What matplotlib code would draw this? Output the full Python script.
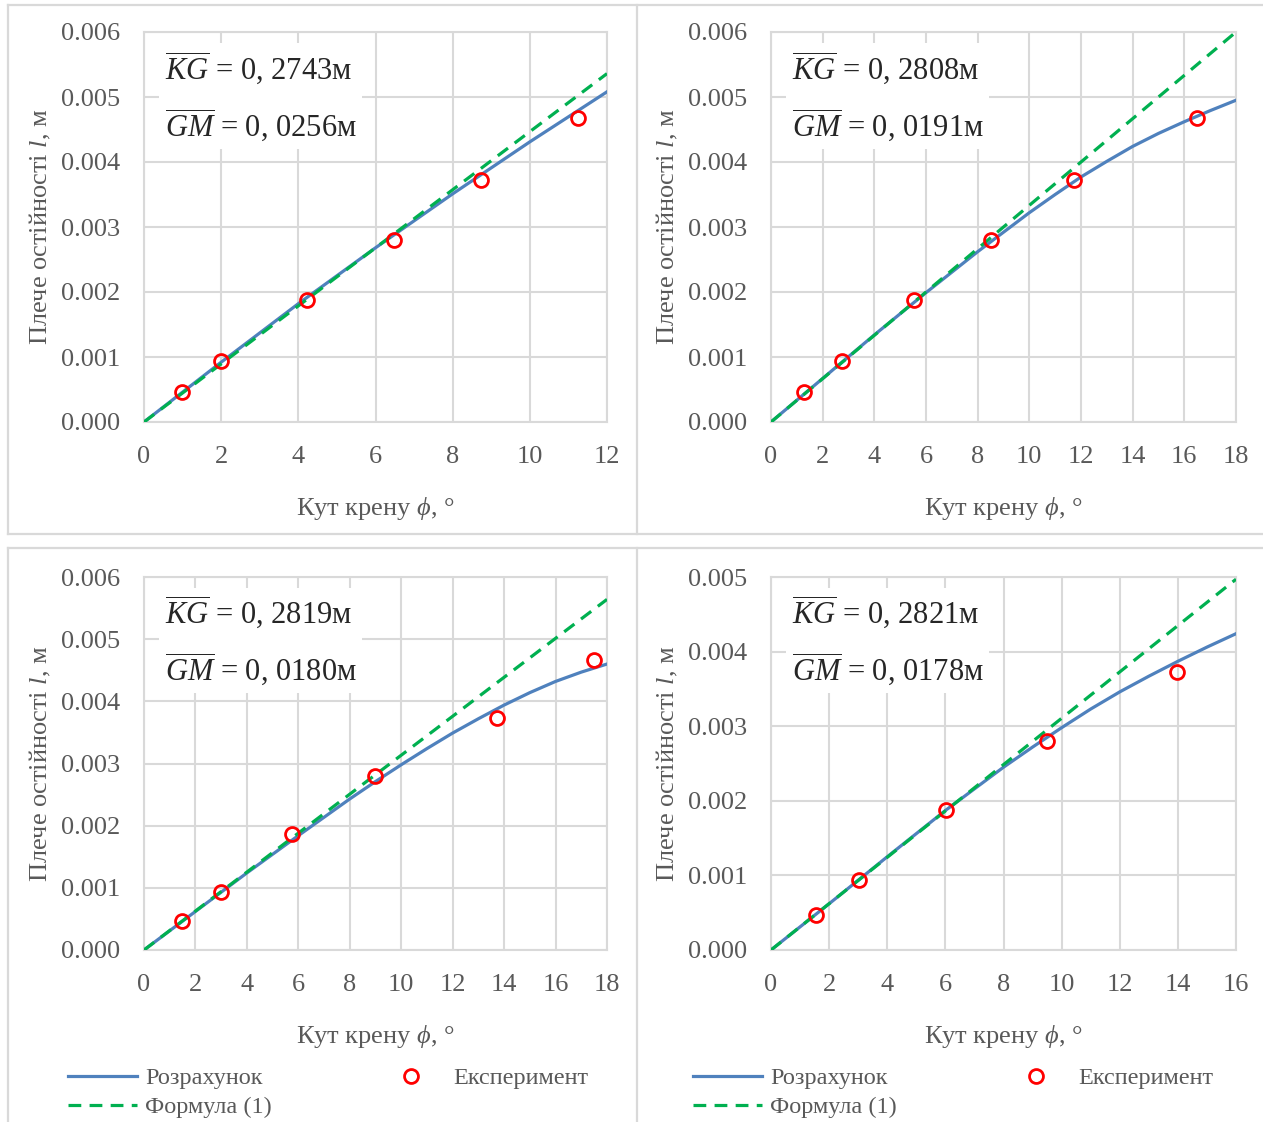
import matplotlib
matplotlib.use("Agg")
import matplotlib.pyplot as plt
from matplotlib.lines import Line2D

plt.rcParams['font.family'] = ['Liberation Serif', 'DejaVu Serif']
plt.rcParams['mathtext.fontset'] = 'custom'
plt.rcParams['mathtext.rm'] = 'Liberation Serif'
plt.rcParams['mathtext.it'] = 'Liberation Serif:italic'

# experiment (same heights in every panel)
exp_y = [0.000467, 0.000933, 0.00187, 0.0028, 0.00373, 0.00467]

# panel 1
p1_exp_x = [0.98, 1.99, 4.23, 6.49, 8.73, 11.24]
p1_calc_x = [0, 2, 4, 6, 8, 10, 12]
p1_calc_y = [0, 0.00092, 0.00182, 0.00268, 0.00351, 0.00431, 0.00508]
p1_form_x = [0, 12]
p1_form_y = [0, 0.00536]
p1_kg, p1_gm = "0, 2743м", "0, 0256м"

# panel 2
p2_exp_x = [1.29, 2.76, 5.54, 8.5, 11.74, 16.48]
p2_calc_x = [0, 2, 4, 6, 8, 9, 10, 11, 12, 13, 14, 15, 16, 17, 18]
p2_calc_y = [0, 0.00067, 0.00134, 0.00199, 0.00262, 0.00292, 0.00322, 0.00350, 0.00377,
             0.00401, 0.00424, 0.00444, 0.00462, 0.00479, 0.00495]
p2_form_x = [0, 18]
p2_form_y = [0, 0.0060]
p2_kg, p2_gm = "0, 2808м", "0, 0191м"

# panel 3
p3_exp_x = [1.46, 2.98, 5.74, 8.98, 13.74, 17.5]
p3_calc_x = [0, 2, 4, 6, 8, 9, 10, 11, 12, 13, 14, 15, 16, 17, 18]
p3_calc_y = [0, 0.00062, 0.00124, 0.00184, 0.00243, 0.00271, 0.00298, 0.00324, 0.00349,
             0.00372, 0.00394, 0.00414, 0.00432, 0.00447, 0.0046]
p3_form_x = [0, 18]
p3_form_y = [0, 0.00564]
p3_kg, p3_gm = "0, 2819м", "0, 0180м"

# panel 4
p4_exp_x = [1.54, 3.03, 6.01, 9.49, 13.98]
p4_calc_x = [0, 2, 4, 6, 8, 9, 10, 11, 12, 13, 14, 15, 16]
p4_calc_y = [0, 0.00062, 0.00125, 0.00187, 0.00245, 0.00272, 0.00298, 0.00323, 0.00346,
             0.00367, 0.00387, 0.00406, 0.00424]
p4_form_x = [0, 16]
p4_form_y = [0, 0.00497]
p4_kg, p4_gm = "0, 2821м", "0, 0178м"

W, H = 1263, 1122
fig = plt.figure(figsize=(W / 100, H / 100), dpi=100)

BLUE = '#4f81bd'
GREEN = '#00b050'
GRAY = '#595959'
GRID = '#d9d9d9'


def px_axes(x0, x1, y0, y1):
    return fig.add_axes([x0 / W, 1 - y1 / H, (x1 - x0) / W, (y1 - y0) / H])


def panel(ax, ex, cx, cy, fx, fy, kg, gm, xmax, ymax):
    ax.plot(cx, cy, color=BLUE, lw=2.3, zorder=3, label='Розрахунок')
    ax.plot(fx, fy, color=GREEN, lw=2.3, ls=(0, (4, 2.6)), zorder=4, label='Формула (1)')
    ax.plot(ex, exp_y[:len(ex)], 'o', ms=10, mfc='none', mec='red', mew=2,
            zorder=5, clip_on=False, label='Експеримент')
    ax.set_xlim(0, xmax)
    ax.set_ylim(0, ymax)
    ax.set_xticks(range(0, xmax + 1, 2))
    yt = [i * 0.001 for i in range(int(round(ymax / 0.001)) + 1)]
    ax.set_yticks(yt)
    ax.set_yticklabels(['%.3f' % v for v in yt])
    ax.grid(True, color=GRID, lw=1.5)
    ax.set_axisbelow(True)
    for s in ax.spines.values():
        s.set_color(GRID)
        s.set_linewidth(1.5)
    ax.tick_params(length=0, labelsize=19, labelcolor=GRAY, pad=17)
    ax.set_xlabel(r'Кут крену $\phi$, °', fontsize=19, color=GRAY, labelpad=20)
    ax.set_ylabel(r'Плече остійності $l$, м', fontsize=19, color=GRAY, labelpad=6)
    txt = r'$\overline{KG}$ = ' + kg + '\n' + r'$\overline{GM}$ = ' + gm
    ax.text(0.045, 0.957, txt, transform=ax.transAxes, fontsize=22, color='#262626',
            va='top', ha='left', linespacing=1.69, zorder=6,
            bbox=dict(facecolor='white', edgecolor='none', pad=4))


ax1 = px_axes(144, 607, 32, 422)
panel(ax1, p1_exp_x, p1_calc_x, p1_calc_y, p1_form_x, p1_form_y, p1_kg, p1_gm, 12, 0.006)
ax2 = px_axes(771, 1236, 32, 422)
panel(ax2, p2_exp_x, p2_calc_x, p2_calc_y, p2_form_x, p2_form_y, p2_kg, p2_gm, 18, 0.006)
ax3 = px_axes(144, 607, 577, 950)
panel(ax3, p3_exp_x, p3_calc_x, p3_calc_y, p3_form_x, p3_form_y, p3_kg, p3_gm, 18, 0.006)
ax4 = px_axes(771, 1236, 577, 950)
panel(ax4, p4_exp_x, p4_calc_x, p4_calc_y, p4_form_x, p4_form_y, p4_kg, p4_gm, 16, 0.005)

# legends under the bottom panels
for ax, xl in [(ax3, 68), (ax4, 693)]:
    h, l = ax.get_legend_handles_labels()
    fig.legend(h, l, ncol=2,
               loc='upper left', bbox_to_anchor=(xl / W, 1 - 1067 / H),
               frameon=False, fontsize=17.5, labelcolor=GRAY, handlelength=2.84,
               handletextpad=0.33, columnspacing=4.3, labelspacing=0.3,
               borderaxespad=0, borderpad=0)

# panel frames
def fline(x0, y0, x1, y1):
    fig.add_artist(Line2D([x0 / W, x1 / W], [1 - y0 / H, 1 - y1 / H], color=GRID, lw=1.6))

fline(8, 5, 1263, 5)
fline(8, 534, 1263, 534)
fline(8, 548, 1263, 548)
fline(8, 5, 8, 534)
fline(8, 548, 8, 1122)
fline(637, 5, 637, 534)
fline(637, 548, 637, 1122)

fig.savefig('out.png', dpi=100)
